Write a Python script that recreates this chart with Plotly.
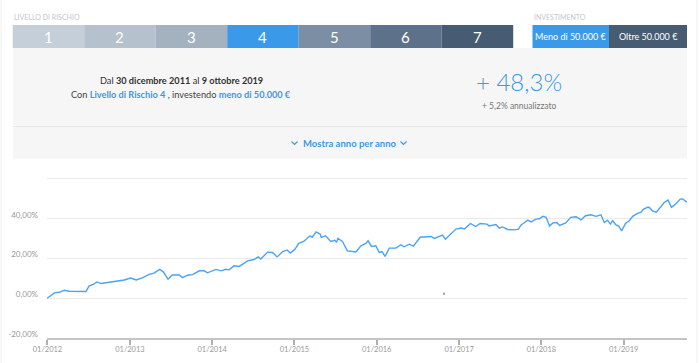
import plotly.graph_objects as go

# ---------------- data ----------------
dates = [
    "2011-12-30", "2012-02-01", "2012-02-23", "2012-03-15", "2012-04-07", "2012-05-06", "2012-05-28",
    "2012-06-20", "2012-07-04", "2012-07-23", "2012-08-08", "2012-08-26", "2012-09-24", "2012-10-24",
    "2012-11-15", "2012-12-07", "2013-01-04", "2013-01-29", "2013-02-27", "2013-03-27", "2013-04-18",
    "2013-05-13", "2013-05-29", "2013-06-19", "2013-07-08", "2013-08-08", "2013-08-22", "2013-09-14",
    "2013-10-06", "2013-11-05", "2013-11-27", "2013-12-11", "2014-01-18", "2014-02-10", "2014-03-02",
    "2014-03-17", "2014-04-08", "2014-05-01", "2014-06-07", "2014-07-06", "2014-07-24", "2014-08-05",
    "2014-09-04", "2014-09-26", "2014-10-16", "2014-11-10", "2014-11-29", "2014-12-14", "2015-01-04",
    "2015-01-20", "2015-02-11", "2015-03-11", "2015-03-21", "2015-04-07", "2015-04-25", "2015-04-30",
    "2015-05-19", "2015-06-11", "2015-06-29", "2015-07-07", "2015-07-13", "2015-08-02", "2015-08-24",
    "2015-09-23", "2015-10-01", "2015-10-23", "2015-11-14", "2015-11-24", "2015-12-09", "2015-12-28",
    "2016-01-13", "2016-01-25", "2016-02-07", "2016-02-26", "2016-03-26", "2016-04-17", "2016-05-02",
    "2016-05-24", "2016-06-12", "2016-07-12", "2016-08-06", "2016-08-29", "2016-09-13", "2016-10-19",
    "2016-11-01", "2016-11-26", "2016-12-18", "2017-01-10", "2017-01-24", "2017-02-20", "2017-03-16",
    "2017-04-04", "2017-05-04", "2017-05-14", "2017-06-13", "2017-06-28", "2017-07-12", "2017-08-04",
    "2017-09-03", "2017-09-21", "2017-10-03", "2017-10-17", "2017-11-01", "2017-11-16", "2017-12-08",
    "2017-12-23", "2018-01-07", "2018-01-22", "2018-02-06", "2018-02-21", "2018-03-10", "2018-03-23",
    "2018-04-19", "2018-05-11", "2018-06-03", "2018-06-17", "2018-06-25", "2018-07-16", "2018-08-08",
    "2018-09-01", "2018-09-22", "2018-10-07", "2018-10-21", "2018-11-03", "2018-11-13", "2018-11-28",
    "2018-12-09", "2018-12-23", "2019-01-09", "2019-01-26", "2019-02-10", "2019-03-03", "2019-03-18",
    "2019-03-29", "2019-04-19", "2019-04-28", "2019-05-08", "2019-05-26", "2019-06-15", "2019-06-30",
    "2019-07-17", "2019-08-01", "2019-08-20", "2019-09-09", "2019-09-19", "2019-10-09",
]
values = [
    0.0, 2.7, 3.0, 4.0, 3.5, 3.5, 3.7,
    3.4, 6.2, 7.0, 8.2, 7.4, 7.9, 8.4,
    8.7, 9.2, 10.2, 9.2, 10.4, 12.0, 12.6,
    14.5, 13.3, 9.6, 11.7, 11.7, 10.4, 11.6,
    11.9, 13.8, 13.8, 12.8, 14.5, 13.8, 14.6,
    14.3, 16.3, 16.0, 18.8, 19.5, 20.8, 19.7,
    23.2, 23.0, 20.8, 23.5, 24.3, 22.7, 24.7,
    27.6, 28.6, 31.4, 30.7, 33.4, 32.3, 30.6,
    31.4, 28.6, 29.2, 28.1, 30.1, 28.6, 23.8,
    23.7, 23.3, 26.4, 27.6, 28.9, 26.1, 26.4,
    23.0, 23.5, 21.0, 25.2, 25.2, 26.9, 25.9,
    27.2, 26.2, 30.7, 30.9, 31.1, 30.1, 31.8,
    29.7, 32.3, 34.8, 35.3, 34.8, 37.6, 36.1,
    37.6, 37.3, 36.4, 37.1, 35.3, 35.9, 34.6,
    34.4, 34.8, 36.9, 38.0, 39.3, 38.4, 39.8,
    40.0, 41.2, 40.7, 36.3, 37.9, 38.1, 36.6,
    37.9, 40.7, 41.0, 40.2, 39.3, 41.5, 42.0,
    41.2, 42.0, 38.1, 39.3, 37.3, 39.0, 36.9,
    36.4, 33.9, 37.6, 39.0, 41.2, 42.7, 43.2,
    44.7, 45.9, 45.4, 44.0, 43.3, 46.2, 48.2,
    49.4, 45.7, 47.4, 49.9, 50.0, 48.3,
]

risk_levels = ["1", "2", "3", "4", "5", "6", "7"]
invest_options = ["Meno di 50.000 €", "Oltre 50.000 €"]
y_tickvals = [-20, 0, 20, 40, 60]
y_ticktext = ["-20,00%", "0,00%", "20,00%", "40,00%", ""]
total_return = "+ 48,3%"
annual_return = "+ 5,2% annualizzato"

# ---------------- styles / geometry ----------------
risk_colors = ["#c5cfd9", "#b5c1cc", "#a4b2c0", "#3b99ea", "#7b8ea4", "#5d728a", "#475b72"]
invest_colors = ["#3b99ea", "#475b72"]
BLUE = "#3b99ea"
FONT = "Lato"

W, H = 700, 363
ML, MR, MT, MB = 47, 13, 177, 25
PW = W - ML - MR
PH = H - MT - MB


def px(x):
    return (x - ML) / PW


def py(y):
    return 1 - (y - MT) / PH


shapes = []
annotations = []


def rect(x0, y0, x1, y1, color):
    shapes.append(dict(type="rect", xref="paper", yref="paper",
                       x0=px(x0), x1=px(x1), y0=py(y1), y1=py(y0),
                       fillcolor=color, line=dict(width=0), layer="below"))


def line(x0, y0, x1, y1, color, width=1):
    shapes.append(dict(type="line", xref="paper", yref="paper",
                       x0=px(x0), x1=px(x1), y0=py(y0), y1=py(y1),
                       line=dict(color=color, width=width)))


def text(x, y, s, size, color, anchor="center", weight=None):
    f = dict(family=FONT, size=size, color=color)
    if weight:
        f["weight"] = weight
    annotations.append(dict(xref="paper", yref="paper", x=px(x), y=py(y), text=s,
                            showarrow=False, xanchor=anchor, yanchor="middle", font=f))


# page borders
line(1, 0, 1, 363, "#f0f0f0", 1)
line(697, 0, 697, 363, "#f0f0f0", 1)

# top labels
text(12, 17, "LIVELLO DI RISCHIO", 7, "#c3c7ce", "left")
text(532, 17, "INVESTIMENTO", 7, "#c3c7ce", "left")

# risk buttons
bx0, bw = 12.7, 71.5
for i, (lab, col) in enumerate(zip(risk_levels, risk_colors)):
    x0 = bx0 + i * bw
    rect(x0, 25, x0 + bw, 48, col)
    text(x0 + bw / 2, 37, lab, 15, "white")

# investment buttons
inv_x = [532.5, 609, 687]
for i, (lab, col) in enumerate(zip(invest_options, invest_colors)):
    rect(inv_x[i], 25, inv_x[i + 1], 48, col)
    text((inv_x[i] + inv_x[i + 1]) / 2, 36.5, lab, 9, "white")

# gray panel
rect(13, 48, 687, 158.5, "#f6f6f6")
line(13, 126.5, 687, 126.5, "#e8e8e8", 1.2)

# panel texts
text(181, 80.7, "Dal <b>30 dicembre 2011</b> al <b>9 ottobre 2019</b>", 9.2, "#333333")
text(181, 94.5,
     "Con <b><span style='color:%s'>Livello di Rischio 4</span></b> , investendo "
     "<b><span style='color:%s'>meno di 50.000 €</span></b>" % (BLUE, BLUE),
     9.2, "#444444")
text(518.5, 81, total_return, 24, BLUE, weight=300)
text(518.5, 106.5, annual_return, 8.5, "#777777")
text(350, 143, "<b>Mostra anno per anno</b>", 9.5, BLUE)

# chevrons
for cx in (294.5, 403.5):
    shapes.append(dict(type="path", xref="paper", yref="paper",
                       path="M %f,%f L %f,%f L %f,%f" % (px(cx - 3), py(141.5), px(cx), py(144.5),
                                                        px(cx + 3), py(141.5)),
                       line=dict(color=BLUE, width=1.2)))

# small stray mark in chart
line(444, 292.5, 444, 295, "#555555", 1)

# ---------------- figure ----------------
fig = go.Figure()
fig.add_trace(go.Scatter(x=dates, y=values, mode="lines",
                         line=dict(color="#4aa3f4", width=1.4), hoverinfo="skip"))

fig.update_layout(
    width=W, height=H,
    margin=dict(l=ML, r=MR, t=MT, b=MB, pad=0, autoexpand=False),
    paper_bgcolor="white", plot_bgcolor="white",
    showlegend=False,
    shapes=shapes, annotations=annotations,
    font=dict(family=FONT),
    xaxis=dict(
        type="date", range=["2011-12-30", "2019-10-09"],
        tick0="2012-01-01", dtick="M12", tickformat="%m/%Y",
        showgrid=False, showline=True, linecolor="#c4c4c4", linewidth=2,
        ticks="outside", ticklen=5, tickcolor="#b0b0b0", tickwidth=1.5,
        ticklabelstandoff=-2,
        tickfont=dict(family=FONT, size=7.5, color="#9a9a9a"),
        zeroline=False, fixedrange=True, automargin=False,
    ),
    yaxis=dict(
        range=[-20, 61], tickmode="array", tickvals=y_tickvals, ticktext=y_ticktext,
        showgrid=True, gridcolor="#e9e9e9", gridwidth=1,
        zeroline=False, showline=False, ticks="",
        ticklabelstandoff=8, ticklabelshift=-4,
        tickfont=dict(family=FONT, size=8, color="#9a9a9a"),
        fixedrange=True, automargin=False,
    ),
)

fig.write_html("out.html")
